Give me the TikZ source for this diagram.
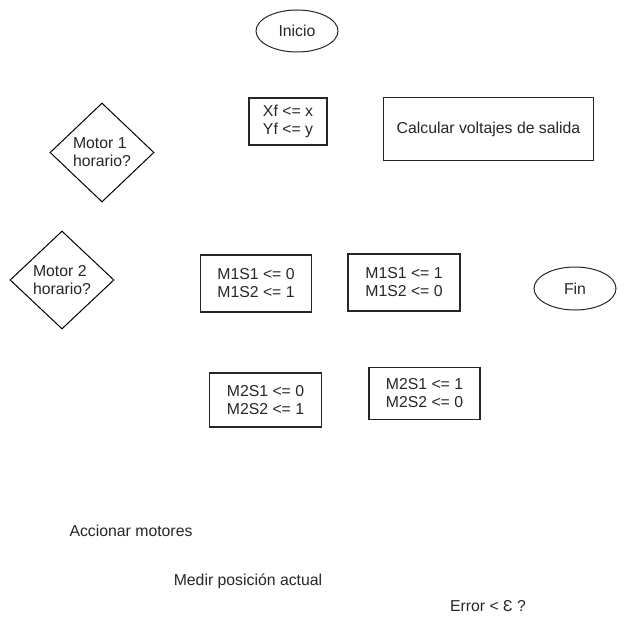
\documentclass[tikz,border=0pt]{standalone}
\usepackage{fontspec}
\setmainfont{Liberation Sans}
\usetikzlibrary{shapes.geometric}
\begin{document}
\begin{tikzpicture}[x=1pt,y=-1pt,
  every node/.style={font=\fontsize{15.8}{18}\selectfont, text=black!85},
  procbox/.style={draw=black!85, line width=1.3pt, rectangle, inner sep=0pt, align=center},
  term/.style={draw=black!85, line width=1pt, ellipse, inner sep=0pt},
  decision/.style={draw=black, line width=1pt, diamond, inner sep=0pt, align=left},
  plain/.style={inner sep=0pt}]
\useasboundingbox (0,0) rectangle (625,626);
\node[term, minimum width=82pt, minimum height=42pt] (inicio) at (297,31) {Inicio};
\node[procbox, minimum width=78pt, minimum height=47pt] (xf) at (288,121.5) {Xf <= x\\Yf <= y};
\node[procbox, minimum width=210pt, minimum height=63pt] (calc) at (488.5,129) {Calcular voltajes de salida};
\node[decision, minimum width=104pt, minimum height=99pt] (m1) at (102,152.5) {Motor 1\\horario?};
\node[decision, minimum width=104pt, minimum height=98pt] (m2) at (62,280) {Motor 2\\horario?};
\node[procbox, minimum width=111pt, minimum height=57pt] (a) at (256,283.5) {M1S1 <= 0\\M1S2 <= 1};
\node[procbox, minimum width=112pt, minimum height=57pt] (b) at (404,282.5) {M1S1 <= 1\\M1S2 <= 0};
\node[term, minimum width=82pt, minimum height=43pt] (fin) at (575,288.5) {Fin};
\node[procbox, minimum width=112pt, minimum height=54pt] (c) at (265.5,400) {M2S1 <= 0\\M2S2 <= 1};
\node[procbox, minimum width=111pt, minimum height=52pt] (d) at (424.5,393.5) {M2S1 <= 1\\M2S2 <= 0};
\node[plain] (acc) at (131,531) {Accionar motores};
\node[plain] (med) at (248,581) {Medir posición actual};
\node[plain] (err) at (488,606) {Error < Ɛ ?};
\end{tikzpicture}
\end{document}
